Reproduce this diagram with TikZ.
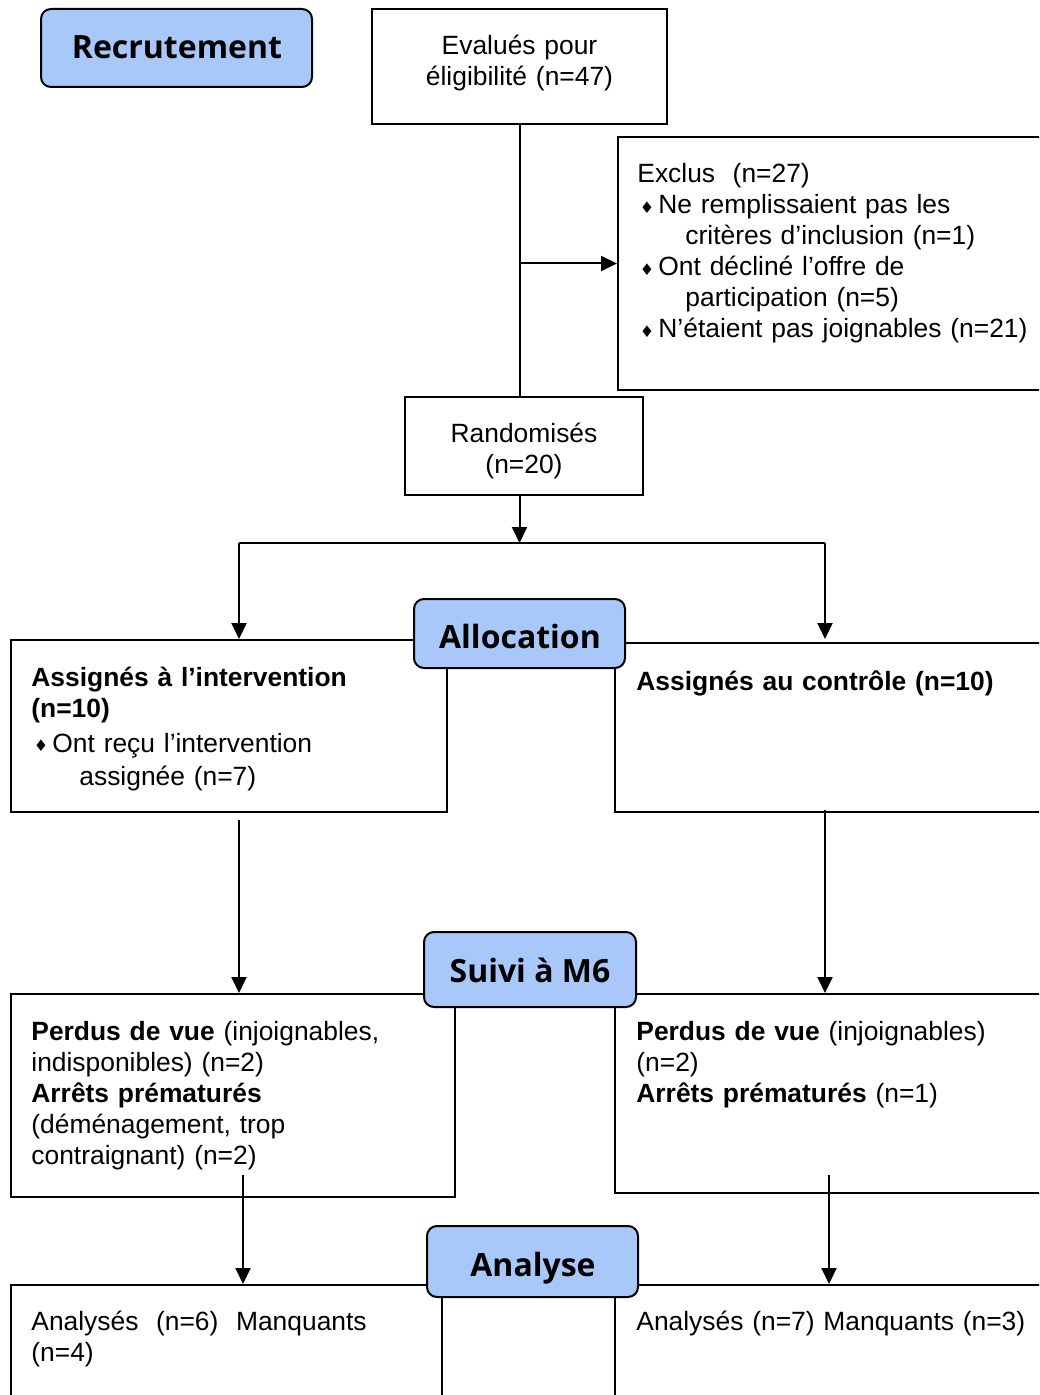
\documentclass[tikz,border=0pt]{standalone}
\usepackage{fontspec}
\setmainfont{Liberation Sans}
\newfontfamily\titrefont{Open Sans}
\newfontfamily\symbfont{DejaVu Sans}
\usetikzlibrary{arrows.meta,fit,calc}
\definecolor{bleuclair}{HTML}{A9C8FA}

\newcommand{\puce}{\makebox[10.5pt][l]{\hspace*{1.2pt}\raisebox{0.4pt}{\symbfont\fontsize{8}{8}\selectfont ♦}}}
\newcommand{\suite}{\hspace*{24pt}}

\tikzset{
  cadre/.style={draw, line width=1pt, inner sep=0pt},
  titre/.style={cadre, fill=bleuclair, rounded corners=5pt},
  titretexte/.style={anchor=base, inner sep=0pt,
    font=\titrefont\bfseries\fontsize{16}{19}\selectfont},
  centre/.style={anchor=base, inner sep=0pt, text width=200pt, align=center,
    font=\fontsize{13.2}{15.5}\selectfont},
  texte/.style={anchor=base west, inner sep=0pt, text width=400pt, align=left,
    font=\fontsize{13.2}{15.5}\selectfont},
  fleche/.style={line width=1pt, -{Triangle[length=8pt,width=7.5pt]}},
  trait/.style={line width=1pt},
}

\begin{document}
\begin{tikzpicture}[x=0.5pt,y=-0.5pt]
  \useasboundingbox (0,0) rectangle (1039,1395);
  \clip (0,0) rectangle (1039,1395);

  % boites du haut
  \node[cadre, fit={(372,9) (667,124)}] (evalue) {};
  \node[centre] (evalue-t) at (519.5,55) {Evalués pour\\éligibilité (n=47)};
  \node[cadre, fit={(618,137) (1060,390)}] (exclus) {};
  \node[texte] (exclus-t) at ($(exclus.north west)+(20,47)$) {Exclus\ \ (n=27)\\
    \puce Ne remplissaient pas les\\
    \suite critères d’inclusion (n=1)\\
    \puce Ont décliné l’offre de\\
    \suite participation (n=5)\\
    \puce N’étaient pas joignables (n=21)};
  \node[cadre, fit={(405,397) (643,495)}] (rando) {};
  \node[centre] (rando-t) at (524,443) {Randomisés\\(n=20)};

  % allocation
  \node[cadre, fit={(11,640) (447,812)}] (interv) {};
  \node[texte] (interv-t) at ($(interv.north west)+(21,47)$) {\textbf{Assignés à l’intervention}\\
    \textbf{(n=10)}\\[2pt]
    \puce Ont reçu l’intervention\\[1pt]
    \suite assignée (n=7)};
  \node[cadre, fit={(615,643) (1060,812)}] (controle) {};
  \node[texte] (controle-t) at ($(controle.north west)+(22,48)$) {\textbf{Assignés au contrôle (n=10)}};

  % suivi
  \node[cadre, fit={(11,994) (455,1197)}] (perdusG) {};
  \node[texte] (perdusG-t) at ($(perdusG.north west)+(21,47)$) {\textbf{Perdus de vue} (injoignables,\\
    indisponibles) (n=2)\\
    \textbf{Arrêts prématurés}\\
    (déménagement, trop\\
    contraignant) (n=2)};
  \node[cadre, fit={(615,994) (1060,1193)}] (perdusD) {};
  \node[texte] (perdusD-t) at ($(perdusD.north west)+(22,47)$) {\textbf{Perdus de vue} (injoignables)\\
    (n=2)\\
    \textbf{Arrêts prématurés} (n=1)};

  % analyse
  \node[cadre, fit={(11,1285) (442,1420)}] (analG) {};
  \node[texte] (analG-t) at ($(analG.north west)+(21,46)$) {Analysés\ \ (n=6)\ \ Manquants\\(n=4)};
  \node[cadre, fit={(615,1285) (1060,1420)}] (analD) {};
  \node[texte] (analD-t) at ($(analD.north west)+(22,46)$) {Analysés (n=7) Manquants (n=3)};

  % fleches
  \draw[trait] (evalue.south) -- (evalue.south |- rando.north);
  \draw[fleche] (evalue.south |- exclus.west) -- (exclus.west);
  \coordinate (partage) at (519.5,543);
  \draw[fleche] (evalue.south |- rando.south) -- (partage);
  \coordinate (gA) at (239,543);
  \coordinate (dA) at (825,543);
  \draw[trait] (gA) -- (dA);
  \draw[fleche] (gA) -- (gA |- interv.north);
  \draw[fleche] (dA) -- (dA |- interv.north);
  \coordinate (gB) at (239,820);
  \coordinate (dB) at (825,810);
  \draw[fleche] (gB) -- (gB |- perdusG.north);
  \draw[fleche] (dB) -- (dB |- perdusD.north);
  \coordinate (gC) at (243,1175);
  \coordinate (dC) at (829,1175);
  \draw[fleche] (gC) -- (gC |- analG.north);
  \draw[fleche] (dC) -- (dC |- analD.north);

  % titres
  \node[titre, fit={(41,9) (312,87)}] (recrut) {};
  \node[titretexte] (recrut-t) at (177,59) {Recrutement};
  \node[titre, fit={(414,599) (625,668)}] (alloc) {};
  \node[titretexte] (alloc-t) at (520,648) {Allocation};
  \node[titre, fit={(424,932) (636,1007)}] (suivi) {};
  \node[titretexte] (suivi-t) at (530,982) {Suivi à M6};
  \node[titre, fit={(427,1226) (638,1297)}] (analyse) {};
  \node[titretexte] (analyse-t) at (533,1276) {Analyse};
\end{tikzpicture}
\end{document}
